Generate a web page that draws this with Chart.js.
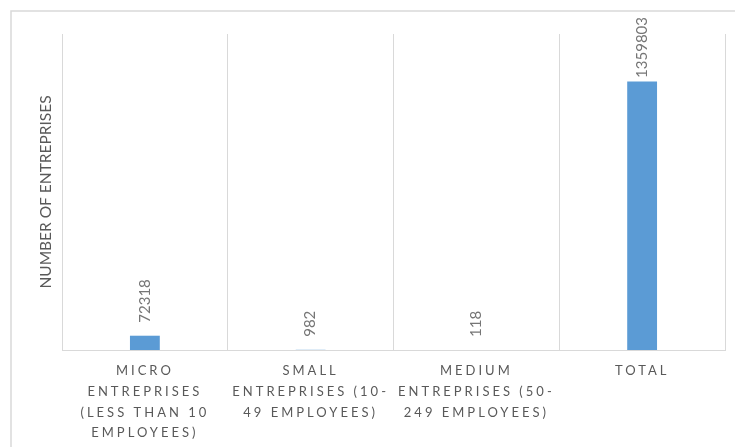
<!DOCTYPE html>
<html>
<head>
<meta charset="utf-8">
<script src="https://cdn.jsdelivr.net/npm/chart.js@4"></script>
<style>
html,body{margin:0;padding:0;background:#fff;overflow:hidden;}
#wrap{position:relative;width:735px;height:447px;}
</style>
</head>
<body>
<div id="wrap"><canvas id="c" width="735" height="447"></canvas></div>
<script>
const categories = [
  ["MICRO", "ENTREPRISES", "(LESS THAN 10", "EMPLOYEES)"],
  ["SMALL", "ENTREPRISES (10-", "49 EMPLOYEES)"],
  ["MEDIUM", "ENTREPRISES (50-", "249 EMPLOYEES)"],
  ["TOTAL"]
];
const values = [72318, 982, 118, 1359803];
const yAxisTitle = "NUMBER OF ENTREPRISES";

const FONT = "Lato, 'Liberation Sans', sans-serif";
const TXT = "#595959";
const GRID = "#d9d9d9";

const borderPlugin = {
  id: 'chartBorder',
  beforeDraw(chart) {
    const ctx = chart.ctx;
    ctx.save();
    ctx.strokeStyle = GRID;
    ctx.lineWidth = 1.5;
    ctx.beginPath();
    ctx.moveTo(11, 447);
    ctx.lineTo(11, 11);
    ctx.lineTo(735, 11);
    ctx.stroke();
    ctx.restore();
    const xs = chart.scales.x;
    if (xs && !xs._spaced) {
      const orig = xs.drawLabels.bind(xs);
      xs.drawLabels = function (area) {
        ctx.save();
        ctx.letterSpacing = '3px';
        orig(area);
        ctx.restore();
      };
      xs._spaced = true;
    }
  }
};

const labelPlugin = {
  id: 'barLabels',
  afterDatasetsDraw(chart) {
    const ctx = chart.ctx;
    const meta = chart.getDatasetMeta(0);
    ctx.save();
    ctx.font = "15px " + FONT;
    ctx.fillStyle = "#767676";
    ctx.textBaseline = 'middle';
    ctx.textAlign = 'left';
    meta.data.forEach((bar, i) => {
      const txt = String(values[i]);
      const w = ctx.measureText(txt).width;
      let start = bar.y - 13;
      if (start - w < 17) start = 17 + w;
      ctx.save();
      ctx.translate(bar.x, start);
      ctx.rotate(-Math.PI / 2);
      ctx.fillText(txt, 0, 0);
      ctx.restore();
    });
    ctx.restore();
  }
};

new Chart(document.getElementById('c'), {
  type: 'bar',
  data: {
    labels: categories,
    datasets: [{
      data: values,
      backgroundColor: '#5B9BD5',
      borderWidth: 0,
      barPercentage: 0.18,
      categoryPercentage: 1
    }]
  },
  options: {
    responsive: false,
    animation: false,
    devicePixelRatio: 1,
    layout: { padding: { top: 34, right: 10, bottom: 0, left: 0 } },
    plugins: { legend: { display: false }, tooltip: { enabled: false } },
    scales: {
      x: {
        grid: { display: true, color: GRID, lineWidth: 1, drawTicks: false, offset: true },
        border: { display: true, color: GRID, width: 1 },
        ticks: {
          color: TXT,
          font: { family: FONT, size: 13, lineHeight: 1.58 },
          padding: 11,
          maxRotation: 0,
          autoSkip: false
        },
        afterFit(s) { s.height = 97; }
      },
      y: {
        min: 0,
        max: 1600000,
        grid: { display: false },
        border: { display: false },
        ticks: { display: false },
        title: {
          display: true,
          text: yAxisTitle,
          color: TXT,
          font: { family: FONT, size: 15.5 },
          padding: { top: 37, bottom: 0 }
        },
        afterFit(s) { s.width = 62; }
      }
    }
  },
  plugins: [borderPlugin, labelPlugin]
});
</script>
</body>
</html>
